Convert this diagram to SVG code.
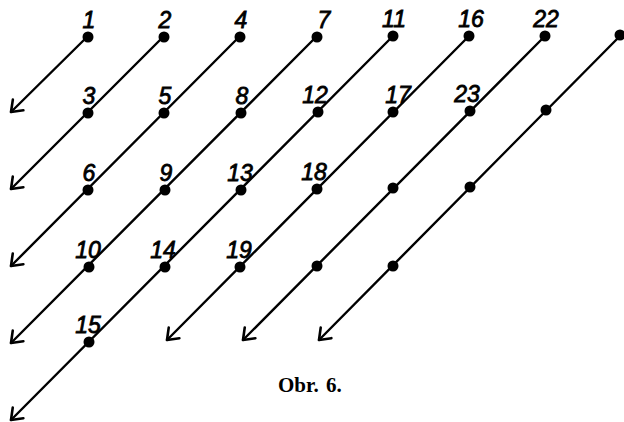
<svg xmlns="http://www.w3.org/2000/svg" width="624" height="422" viewBox="0 0 624 422">
<style>
.bg{fill:#ffffff}
.dot{fill:#000000}
.lbl{font-family:"Liberation Sans",Arial,sans-serif;font-style:italic;font-size:23px;fill:#000;stroke:#000;stroke-width:0.8px;text-anchor:middle}
.ln{fill:none;stroke:#000;stroke-width:2.4px;stroke-linecap:round}
.cap{font-family:"Liberation Serif","Times New Roman",serif;font-weight:bold;font-size:21px;fill:#000}
</style>
<defs>
<marker id="arr" markerUnits="userSpaceOnUse" markerWidth="30" markerHeight="30" refX="0" refY="0" orient="auto" viewBox="-15 -15 30 30" overflow="visible">
<path d="M-10,-7.5 L0,0 L-10,7.5" fill="none" stroke="#000" stroke-width="2.6" stroke-linecap="round" stroke-linejoin="round"/>
</marker>
</defs>
<rect class="bg" x="0" y="0" width="624" height="422"/>
<g id="connectors">
<path class="ln" marker-end="url(#arr)" d="M88,36 L11,112"/>
<path class="ln" marker-end="url(#arr)" d="M164,36 L11,189"/>
<path class="ln" marker-end="url(#arr)" d="M240,36 L11,266"/>
<path class="ln" marker-end="url(#arr)" d="M317,36 L11,343"/>
<path class="ln" marker-end="url(#arr)" d="M393,36 L11,420"/>
<path class="ln" marker-end="url(#arr)" d="M469,36 L167,340"/>
<path class="ln" marker-end="url(#arr)" d="M545,36 L243,340"/>
<path class="ln" marker-end="url(#arr)" d="M620,36 L319,340"/>
</g>
<g id="n1"><circle class="dot" cx="88" cy="37" r="5.5"/><text class="lbl" x="89" y="28">1</text></g>
<g id="n2"><circle class="dot" cx="164" cy="37" r="5.5"/><text class="lbl" x="165" y="28">2</text></g>
<g id="n3"><circle class="dot" cx="88" cy="113" r="5.5"/><text class="lbl" x="89" y="104">3</text></g>
<g id="n4"><circle class="dot" cx="240" cy="37" r="5.5"/><text class="lbl" x="241" y="28">4</text></g>
<g id="n5"><circle class="dot" cx="164" cy="113" r="5.5"/><text class="lbl" x="165" y="104">5</text></g>
<g id="n6"><circle class="dot" cx="88" cy="190" r="5.5"/><text class="lbl" x="89" y="181">6</text></g>
<g id="n7"><circle class="dot" cx="317" cy="37" r="5.5"/><text class="lbl" x="324" y="28">7</text></g>
<g id="n8"><circle class="dot" cx="241" cy="113" r="5.5"/><text class="lbl" x="242" y="104">8</text></g>
<g id="n9"><circle class="dot" cx="165" cy="190" r="5.5"/><text class="lbl" x="166" y="181">9</text></g>
<g id="n10"><circle class="dot" cx="89" cy="267" r="5.5"/><text class="lbl" x="88" y="258">10</text></g>
<g id="n11"><circle class="dot" cx="393" cy="36" r="5.5"/><text class="lbl" x="394" y="27">11</text></g>
<g id="n12"><circle class="dot" cx="318" cy="112" r="5.5"/><text class="lbl" x="315" y="103">12</text></g>
<g id="n13"><circle class="dot" cx="241" cy="190" r="5.5"/><text class="lbl" x="240" y="181">13</text></g>
<g id="n14"><circle class="dot" cx="165" cy="267" r="5.5"/><text class="lbl" x="163" y="258">14</text></g>
<g id="n15"><circle class="dot" cx="89" cy="342" r="5.5"/><text class="lbl" x="88" y="333">15</text></g>
<g id="n16"><circle class="dot" cx="469" cy="36" r="5.5"/><text class="lbl" x="471" y="27">16</text></g>
<g id="n17"><circle class="dot" cx="393" cy="112" r="5.5"/><text class="lbl" x="398" y="103">17</text></g>
<g id="n18"><circle class="dot" cx="317" cy="189" r="5.5"/><text class="lbl" x="314" y="180">18</text></g>
<g id="n19"><circle class="dot" cx="240" cy="267" r="5.5"/><text class="lbl" x="239" y="258">19</text></g>
<g id="n22"><circle class="dot" cx="545" cy="36" r="5.5"/><text class="lbl" x="546" y="27">22</text></g>
<g id="n23"><circle class="dot" cx="470" cy="111" r="5.5"/><text class="lbl" x="467" y="102">23</text></g>
<g id="p7-0"><circle class="dot" cx="620" cy="35" r="5.5"/></g>
<g id="p6-1"><circle class="dot" cx="546" cy="110" r="5.5"/></g>
<g id="p5-2"><circle class="dot" cx="470" cy="187" r="5.5"/></g>
<g id="p4-2"><circle class="dot" cx="393" cy="188" r="5.5"/></g>
<g id="p4-3"><circle class="dot" cx="393" cy="266" r="5.5"/></g>
<g id="p3-3"><circle class="dot" cx="317" cy="266" r="5.5"/></g>
<text class="cap" y="392"><tspan x="278">Obr.</tspan><tspan x="326">6.</tspan></text>
</svg>
